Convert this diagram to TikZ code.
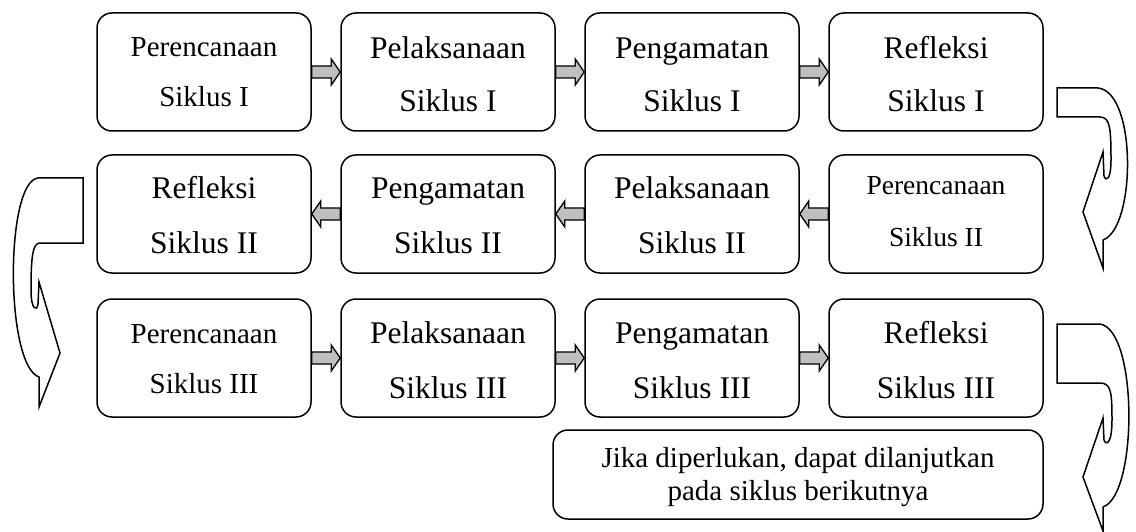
\documentclass[tikz,border=0pt]{standalone}
\usepackage{fontspec}
\setmainfont{Liberation Serif}
\usetikzlibrary{calc}
\tikzset{
  stepbox/.style={draw, line width=1.5pt, rounded corners=15pt, inner sep=0pt,
    minimum width=214pt, minimum height=118pt},
  lbl/.style={anchor=base, inner sep=0pt},
  blk/.style={draw, line width=1.3pt, fill=gray!50, line join=miter},
  bigarr/.style={draw, line width=1.5pt, fill=white, line join=miter},
}
\newcommand\fbig{\fontsize{31.5}{36}\selectfont}
\newcommand\fmid{\fontsize{29}{33}\selectfont}
\newcommand\fsmall{\fontsize{27.5}{31}\selectfont}
% right-pointing block arrow from #1 to #2
\newcommand\rarr[2]{\draw[blk] let \p1=(#1.east), \p2=(#2.west) in
  (\x1,{\y1+6}) -- ({\x2-9},{\y1+6}) -- ({\x2-9},{\y1+13}) -- (\x2,\y1)
  -- ({\x2-9},{\y1-13}) -- ({\x2-9},{\y1-6}) -- (\x1,{\y1-6}) -- cycle;}
% left-pointing block arrow from #1 to #2
\newcommand\larr[2]{\draw[blk] let \p1=(#1.west), \p2=(#2.east) in
  (\x1,{\y1+6}) -- ({\x2+9},{\y1+6}) -- ({\x2+9},{\y1+13}) -- (\x2,\y1)
  -- ({\x2+9},{\y1-13}) -- ({\x2+9},{\y1-6}) -- (\x1,{\y1-6}) -- cycle;}
\begin{document}
\begin{tikzpicture}[x=1pt,y=-1pt]
\useasboundingbox (0,0) rectangle (1136,532);

% Row 1
\node[stepbox] (a1) at (204,72) {};
\node[stepbox] (a2) at (448,72) {};
\node[stepbox] (a3) at (692,72) {};
\node[stepbox] (a4) at (936,72) {};
\node[lbl,font=\fmid] (ta1) at (204,57) {Perencanaan};
\node[lbl,font=\fmid] (sa1) at (204,107) {Siklus I};
\node[lbl,font=\fbig] (ta2) at (448,59) {Pelaksanaan};
\node[lbl,font=\fbig] (sa2) at (448,112) {Siklus I};
\node[lbl,font=\fbig] (ta3) at (692,59) {Pengamatan};
\node[lbl,font=\fbig] (sa3) at (692,112) {Siklus I};
\node[lbl,font=\fbig] (ta4) at (936,59) {Refleksi};
\node[lbl,font=\fbig] (sa4) at (936,112) {Siklus I};

% Row 2
\node[stepbox] (b1) at (204,214) {};
\node[stepbox] (b2) at (448,214) {};
\node[stepbox] (b3) at (692,214) {};
\node[stepbox] (b4) at (936,214) {};
\node[lbl,font=\fbig] (tb1) at (204,199) {Refleksi};
\node[lbl,font=\fbig] (sb1) at (204,253) {Siklus II};
\node[lbl,font=\fbig] (tb2) at (448,199) {Pengamatan};
\node[lbl,font=\fbig] (sb2) at (448,253) {Siklus II};
\node[lbl,font=\fbig] (tb3) at (692,199) {Pelaksanaan};
\node[lbl,font=\fbig] (sb3) at (692,253) {Siklus II};
\node[lbl,font=\fsmall] (tb4) at (936,194) {Perencanaan};
\node[lbl,font=\fsmall] (sb4) at (936,246) {Siklus II};

% Row 3
\node[stepbox] (c1) at (204,358) {};
\node[stepbox] (c2) at (448,358) {};
\node[stepbox] (c3) at (692,358) {};
\node[stepbox] (c4) at (936,358) {};
\node[lbl,font=\fmid] (tc1) at (204,343) {Perencanaan};
\node[lbl,font=\fmid] (sc1) at (204,393) {Siklus III};
\node[lbl,font=\fbig] (tc2) at (448,343) {Pelaksanaan};
\node[lbl,font=\fbig] (sc2) at (448,398) {Siklus III};
\node[lbl,font=\fbig] (tc3) at (692,343) {Pengamatan};
\node[lbl,font=\fbig] (sc3) at (692,398) {Siklus III};
\node[lbl,font=\fbig] (tc4) at (936,343) {Refleksi};
\node[lbl,font=\fbig] (sc4) at (936,398) {Siklus III};

% Bottom box
\node[stepbox, minimum width=490pt, minimum height=89pt] (d) at (798,474.5) {};
\node[lbl,font=\fmid] (td1) at (798,467) {Jika diperlukan, dapat dilanjutkan};
\begin{scope}
  \clip (553,430) rectangle (1043,506);
  \node[lbl,font=\fmid] (td2) at (798,500) {pada siklus berikutnya};
\end{scope}

% Block arrows
\rarr{a1}{a2}
\rarr{a2}{a3}
\rarr{a3}{a4}
\larr{b4}{b3}
\larr{b3}{b2}
\larr{b2}{b1}
\rarr{c1}{c2}
\rarr{c2}{c3}
\rarr{c3}{c4}

% Curved arrows
\path[bigarr] (1057,88) -- (1098,88) .. controls (1137,92) and (1136,228) .. (1103,240)
  -- (1103,268) -- (1083,212) -- (1103,152) -- (1104,176)
  .. controls (1106,182) and (1111,180) .. (1111,160)
  .. controls (1111,128) and (1110,117) .. (1100,117) -- (1057,117) -- cycle;
\path[bigarr] (83,178) -- (38,178) .. controls (5,182) and (5,365) .. (39,377)
  -- (39,407) -- (60,353) -- (39,282) -- (38,304)
  .. controls (37,312) and (31,310) .. (31,290)
  .. controls (31,255) and (33,243) .. (40,243) -- (83,243) -- cycle;
\path[bigarr] (1057,324) -- (1100,324) .. controls (1138,330) and (1138,495) .. (1103,507)
  -- (1103,531) -- (1083,477) -- (1103,418) -- (1104,440)
  .. controls (1106,446) and (1112,444) .. (1112,420)
  .. controls (1112,392) and (1111,383) .. (1100,383) -- (1057,383) -- cycle;
\end{tikzpicture}
\end{document}
